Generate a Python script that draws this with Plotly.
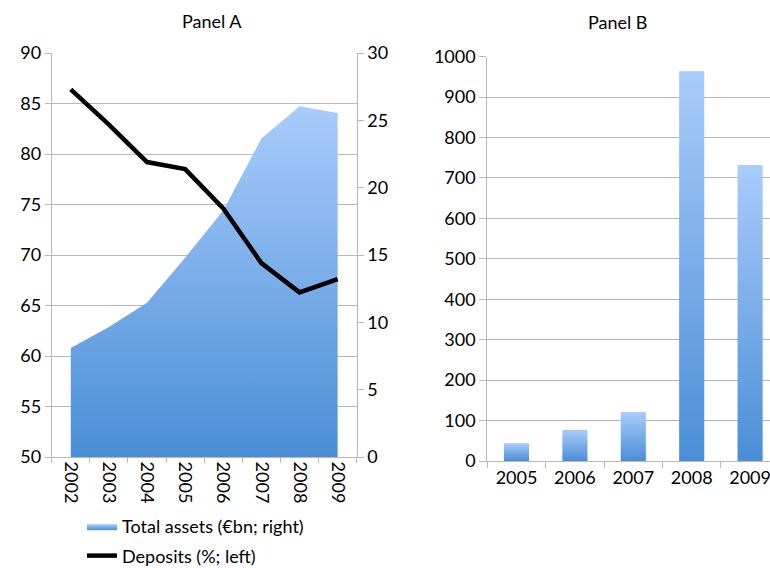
import plotly.graph_objects as go

# Panel A data
years_a = ["2002", "2003", "2004", "2005", "2006", "2007", "2008", "2009"]
deposits = [86.4, 82.9, 79.2, 78.5, 74.6, 69.2, 66.3, 67.6]          # % (left axis)
total_assets = [8.1, 9.65, 11.45, 14.8, 18.3, 23.65, 26.05, 25.55]    # EUR bn (right axis)

# Panel B data
years_b = ["2005", "2006", "2007", "2008", "2009"]
panel_b = [44, 77, 121, 964, 732]

FONT = "Lato"
TICK_SIZE = 18
TEXT_SIZE = 18
GRID = "#b8b8b8"
DARK_BLUE = "#4a8ed7"
LIGHT_BLUE = "#a9ccfb"
GRADIENT = [[0, DARK_BLUE], [1, LIGHT_BLUE]]

W, H = 770, 568


def px_x(p):
    return p / W


def px_y(p):
    return 1 - p / H


fig = go.Figure()

# area on the right axis (base subplot) so the line overlay sits above it
fig.add_trace(go.Scatter(
    x=years_a, y=total_assets,
    xaxis="x", yaxis="y",
    mode="lines", line=dict(width=0, color=LIGHT_BLUE),
    fill="tozeroy",
    fillgradient=dict(type="vertical", colorscale=GRADIENT,
                      start=0, stop=max(total_assets)),
    name="Total assets (€bn; right)",
    legendgroup="a", hoverinfo="skip",
))

fig.add_trace(go.Scatter(
    x=years_a, y=deposits,
    xaxis="x", yaxis="y2",
    mode="lines", line=dict(width=4.5, color="black"),
    name="Deposits (%; left)",
    legendgroup="b", hoverinfo="skip",
))

# Panel B bars as gradient-filled rectangles
half = 0.215
for i, v in enumerate(panel_b):
    fig.add_trace(go.Scatter(
        x=[i - half, i - half, i + half, i + half, i - half],
        y=[0, v, v, 0, 0],
        xaxis="x2", yaxis="y3",
        mode="lines", line=dict(width=0),
        fill="toself",
        fillgradient=dict(type="vertical", colorscale=GRADIENT),
        showlegend=False, hoverinfo="skip",
    ))

axis_common = dict(
    showline=True, linecolor=GRID, linewidth=1,
    ticks="outside", tickcolor=GRID, tickwidth=1,
    zeroline=False, tickfont=dict(size=TICK_SIZE, color="black"),
    automargin=False,
)

dom_a = [px_x(51.7), px_x(356.7)]
dom_b = [px_x(487.3), 1.0]

fig.update_layout(
    width=W, height=H,
    margin=dict(l=0, r=0, t=0, b=0, pad=0, autoexpand=False),
    plot_bgcolor="white", paper_bgcolor="white",
    font=dict(family=FONT, size=TEXT_SIZE, color="black"),
    xaxis=dict(
        domain=dom_a, anchor="y", type="category",
        range=[-0.5, len(years_a) - 0.5],
        tickson="boundaries", ticklen=5, tickangle=90,
        showgrid=False, **axis_common,
    ),
    yaxis=dict(
        domain=[px_y(457), px_y(53)], anchor="x", side="right",
        range=[0, 30], dtick=5, ticklen=6, showgrid=False,
        **axis_common,
    ),
    yaxis2=dict(
        overlaying="y", anchor="x", side="left",
        range=[50, 90], dtick=5, ticklen=6,
        showgrid=True, gridcolor=GRID, gridwidth=1,
        **axis_common,
    ),
    xaxis2=dict(
        domain=dom_b, anchor="y3",
        range=[-0.5, -0.5 + (W - 487.3) / 58.4],
        tickmode="array", tickvals=list(range(len(years_b))), ticktext=years_b,
        showgrid=False, showline=True, linecolor=GRID, zeroline=False,
        ticks="", tickfont=dict(size=TICK_SIZE, color="black"), automargin=False,
        ticklabeloverflow="allow",
        minor=dict(
            tickmode="array",
            tickvals=[i - 0.5 for i in range(len(years_b) + 1)],
            ticks="outside", ticklen=6, tickcolor=GRID, showgrid=False,
        ),
    ),
    yaxis3=dict(
        domain=[px_y(461), px_y(56.7)], anchor="x2",
        range=[0, 1000], dtick=100, ticklen=7,
        showgrid=True, gridcolor=GRID, gridwidth=1,
        **axis_common,
    ),
    legend=dict(
        x=px_x(82), y=px_y(508), xanchor="left", yanchor="top",
        font=dict(size=TEXT_SIZE), tracegroupgap=3, bgcolor="rgba(0,0,0,0)",
    ),
    annotations=[
        dict(text="Panel A", x=px_x(212), y=px_y(21), xref="paper", yref="paper",
             xanchor="center", yanchor="middle",
             showarrow=False, font=dict(size=TEXT_SIZE)),
        dict(text="Panel B", x=px_x(618), y=px_y(22), xref="paper", yref="paper",
             xanchor="center", yanchor="middle",
             showarrow=False, font=dict(size=TEXT_SIZE)),
    ],
)

# page body margin would otherwise shift the figure by 8px
fig.write_html("out.html",
               config={"displayModeBar": False},
               post_script="document.body.style.margin='0';"
                           "document.body.style.overflow='hidden';")
